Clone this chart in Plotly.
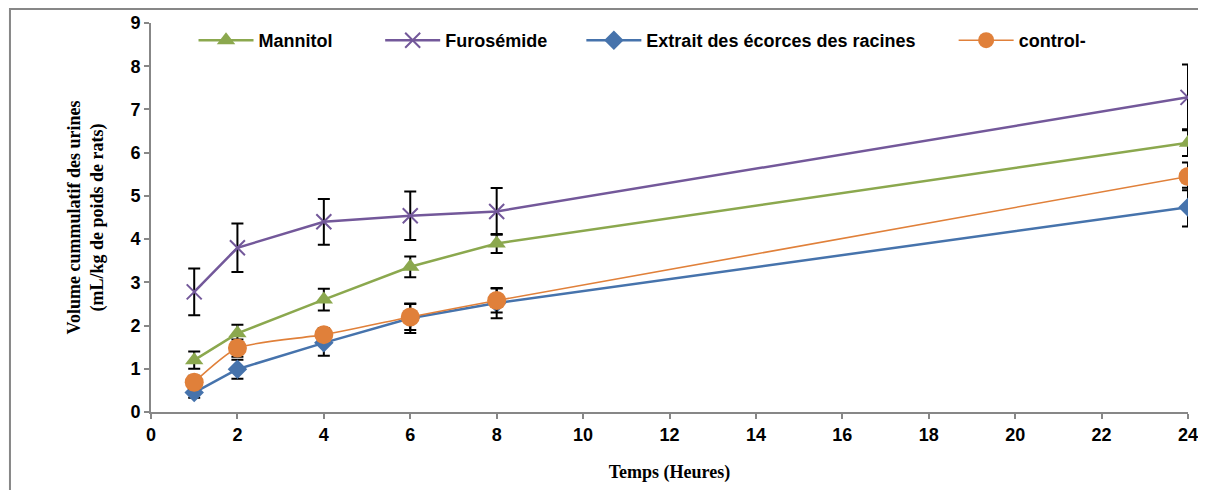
import plotly.graph_objects as go

hours = [1, 2, 4, 6, 8, 24]

mannitol = [1.20, 1.82, 2.60, 3.36, 3.90, 6.23]
mannitol_err = [0.20, 0.20, 0.25, 0.24, 0.22, 0.31]

furosemide = [2.78, 3.80, 4.40, 4.54, 4.64, 7.28]
furosemide_err = [0.54, 0.56, 0.53, 0.56, 0.54, 0.76]

extrait = [0.45, 0.99, 1.60, 2.17, 2.52, 4.74]
extrait_err = [0.12, 0.22, 0.30, 0.34, 0.35, 0.45]

control = [0.69, 1.48, 1.79, 2.20, 2.58, 5.45]
control_err = [0.15, 0.20, 0.15, 0.30, 0.28, 0.32]

names = ["Mannitol", "Furosémide", "Extrait des écorces des racines", "control-"]
colors = ["#8BA84E", "#73589A", "#4673AC", "#E0803A"]

err_style = dict(type="data", visible=True, color="black", thickness=2, width=6)

fig = go.Figure()
fig.add_trace(go.Scatter(
    x=hours, y=mannitol, name=names[0], mode="lines+markers", legend="legend",
    line=dict(color=colors[0], width=2.5),
    marker=dict(symbol="triangle-up", size=16, color=colors[0]),
    error_y=dict(array=mannitol_err, **err_style)))
fig.add_trace(go.Scatter(
    x=hours, y=furosemide, name=names[1], mode="lines+markers", legend="legend2",
    line=dict(color=colors[1], width=2.5),
    marker=dict(symbol="x-thin-open", size=15, color=colors[1],
                line=dict(color=colors[1], width=2)),
    error_y=dict(array=furosemide_err, **err_style)))
fig.add_trace(go.Scatter(
    x=hours, y=extrait, name=names[2], mode="lines+markers", legend="legend3",
    line=dict(color=colors[2], width=2.5),
    marker=dict(symbol="diamond", size=15, color=colors[2]),
    error_y=dict(array=extrait_err, **err_style)))
fig.add_trace(go.Scatter(
    x=hours, y=control, name=names[3], mode="lines+markers", legend="legend4",
    line=dict(color=colors[3], width=1.6, shape="spline", smoothing=0.6),
    marker=dict(symbol="circle", size=19, color=colors[3]),
    error_y=dict(array=control_err, **err_style)))

tick_font = dict(family="Liberation Sans, Arial, sans-serif", size=18, color="black", weight="bold")
title_font = dict(family="Liberation Serif, Times New Roman, serif", size=18, color="black")

axis_common = dict(
    showline=True, linecolor="#878787", linewidth=2,
    ticks="outside", tickcolor="#878787", ticklen=5, tickwidth=1.5,
    showgrid=False, zeroline=False, tickfont=tick_font, automargin=False,
)

def leg(x):
    return dict(orientation="h", x=x, y=0.955, xanchor="left", yanchor="middle",
                bgcolor="rgba(0,0,0,0)", itemwidth=55, font=tick_font)

fig.update_layout(
    width=1198, height=482,
    margin=dict(l=143, r=18, t=15, b=78),
    paper_bgcolor="white", plot_bgcolor="white",
    xaxis=dict(range=[0, 24], dtick=2, tick0=0,
               title=dict(text="<b>Temps (Heures)</b>", standoff=22, font=title_font),
               **axis_common),
    yaxis=dict(range=[0, 9], dtick=1, tick0=0,
               title=dict(text="<b>Volume cummulatif des urines<br>(mL/kg de poids de rats)</b>", standoff=22,
                          font=title_font),
               **axis_common),
    legend=leg(0.041),
    legend2=leg(0.221),
    legend3=leg(0.415),
    legend4=leg(0.774),
    showlegend=True,
)

fig.add_shape(type="rect", xref="paper", yref="paper",
              x0=-0.136, x1=1.05, y0=-0.5, y1=1.036,
              line=dict(color="#878787", width=2), fillcolor="rgba(0,0,0,0)", layer="below")

fig.write_html("out.html")
